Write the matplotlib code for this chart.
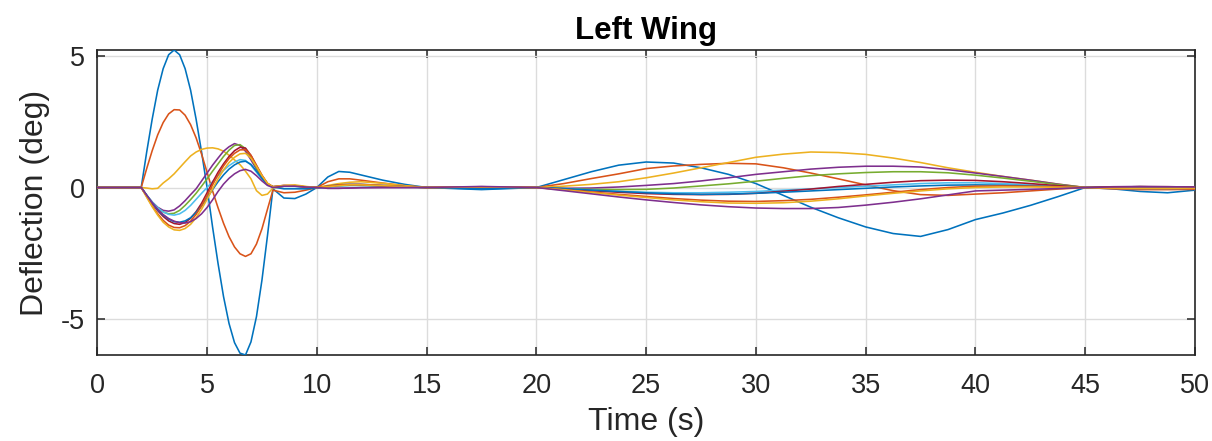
import matplotlib
matplotlib.use("Agg")
import matplotlib.pyplot as plt
import numpy as np

# Time samples (s)
t_start = [0, 2, 2.25, 2.5, 2.75, 3, 3.25, 3.5, 3.75, 4, 4.25, 4.5, 4.75, 5,
           5.25, 5.5, 5.75, 6, 6.25, 6.5, 6.75, 7, 7.25, 7.5, 7.75, 8]
t_mid = [8.5, 9, 9.5, 10, 10.5, 11, 11.5, 12, 13, 14, 15, 17.5]
t_end = [20, 21.25, 22.5, 23.75, 25, 26.25, 27.5, 28.75, 30, 31.25, 32.5,
         33.75, 35, 36.25, 37.5, 38.75, 40, 41.25, 42.5, 43.75, 45, 46.25,
         47.5, 48.75, 50]
time = t_start + t_mid + t_end

# Surface deflections (deg), one list per control surface
blue_a = [0, 0, 1.35, 2.6, 3.7, 4.52, 5.05, 5.23, 5.05, 4.52, 3.7, 2.6, 1.35, 0,
          -1.5, -2.89, -4.15, -5.17, -5.9, -6.3, -6.37, -5.87, -4.91, -3.52, -1.84, -0.05,
          -0.4, -0.42, -0.25, 0.0, 0.4, 0.61, 0.58, 0.48, 0.28, 0.12, 0.0, -0.08,
          0, 0.3, 0.6, 0.85, 0.97, 0.93, 0.75, 0.5, 0.15, -0.3, -0.75, -1.15, -1.5,
          -1.75, -1.86, -1.6, -1.22, -0.97, -0.68, -0.35, 0, -0.05, -0.15, -0.2, -0.1]
orange_a = [0, 0, 0.72, 1.4, 2.0, 2.47, 2.8, 2.96, 2.95, 2.75, 2.39, 1.89, 1.27, 0.58,
            -0.13, -0.77, -1.36, -1.87, -2.26, -2.52, -2.62, -2.52, -2.15, -1.57, -0.83, -0.1,
            -0.2, -0.18, -0.1, 0.0, 0.22, 0.33, 0.33, 0.28, 0.17, 0.07, 0.0, -0.02,
            0, 0.15, 0.34, 0.52, 0.72, 0.82, 0.88, 0.92, 0.9, 0.75, 0.55, 0.33, 0.1,
            -0.12, -0.27, -0.3, -0.25, -0.2, -0.13, -0.06, 0, -0.05, -0.08, -0.08, -0.07]
yellow_a = [0, 0, -0.02, -0.05, -0.03, 0.17, 0.33, 0.52, 0.75, 0.98, 1.2, 1.35, 1.45, 1.5,
            1.51, 1.47, 1.38, 1.23, 1.05, 0.87, 0.62, 0.33, -0.12, -0.3, -0.25, -0.02,
            0.05, 0.07, 0.03, 0.0, 0.08, 0.15, 0.2, 0.22, 0.16, 0.07, 0.0, 0.0,
            0, 0.05, 0.12, 0.22, 0.37, 0.55, 0.75, 0.95, 1.15, 1.27, 1.35, 1.33, 1.26,
            1.12, 0.95, 0.75, 0.58, 0.42, 0.28, 0.13, 0, 0.02, 0.03, 0.03, 0.02]
purple_a = [0, 0, -0.3, -0.55, -0.75, -0.87, -0.9, -0.85, -0.7, -0.5, -0.27, -0.05, 0.25, 0.55,
            0.85, 1.12, 1.38, 1.55, 1.67, 1.6, 1.38, 1.05, 0.7, 0.38, 0.12, 0.03,
            0.05, 0.05, 0.02, 0, -0.03, -0.03, -0.02, 0.0, 0.0, 0.0, 0, 0.03,
            0, -0.03, -0.02, 0.02, 0.08, 0.15, 0.25, 0.37, 0.5, 0.6, 0.7, 0.77, 0.81,
            0.81, 0.78, 0.68, 0.55, 0.42, 0.28, 0.13, 0, 0.03, 0.04, 0.03, 0.02]
green = [0, 0, -0.3, -0.57, -0.78, -0.93, -1.0, -0.98, -0.87, -0.68, -0.46, -0.22, 0.05, 0.33,
         0.62, 0.9, 1.18, 1.42, 1.6, 1.63, 1.48, 1.15, 0.75, 0.4, 0.14, 0.03,
         0.06, 0.06, 0.02, 0, 0.03, 0.07, 0.08, 0.08, 0.05, 0.02, 0, 0.0,
         0, -0.04, -0.07, -0.08, -0.07, -0.02, 0.06, 0.14, 0.24, 0.35, 0.45, 0.52, 0.57,
         0.6, 0.6, 0.56, 0.47, 0.36, 0.24, 0.11, 0, 0.02, 0.03, 0.02, 0.01]
cyan = [0, 0, -0.28, -0.55, -0.77, -0.93, -1.02, -1.05, -1.0, -0.87, -0.68, -0.45, -0.22, 0.0,
        0.22, 0.45, 0.65, 0.83, 0.97, 1.06, 1.03, 0.85, 0.58, 0.32, 0.1, 0.0,
        0.04, 0.04, 0.0, -0.03, 0.0, 0.05, 0.08, 0.08, 0.05, 0.02, 0, -0.03,
        0, -0.05, -0.1, -0.15, -0.18, -0.2, -0.2, -0.18, -0.15, -0.1, -0.05, 0.0, 0.05,
        0.1, 0.15, 0.18, 0.18, 0.15, 0.1, 0.05, 0, -0.03, -0.05, -0.05, -0.03]
dark_red = [0, 0, -0.3, -0.6, -0.88, -1.1, -1.27, -1.37, -1.4, -1.33, -1.17, -0.92, -0.6, -0.2,
            0.2, 0.58, 0.9, 1.18, 1.4, 1.53, 1.5, 1.22, 0.82, 0.45, 0.15, 0.03,
            0.08, 0.07, 0.02, 0, 0.03, 0.08, 0.1, 0.1, 0.06, 0.03, 0, 0.0,
            0, -0.06, -0.12, -0.18, -0.23, -0.26, -0.27, -0.26, -0.22, -0.14, -0.06, 0.04, 0.12,
            0.2, 0.26, 0.28, 0.27, 0.22, 0.15, 0.07, 0, 0.02, 0.03, 0.02, 0.01]
blue_b = [0, 0, -0.3, -0.6, -0.85, -1.05, -1.2, -1.3, -1.32, -1.27, -1.15, -0.95, -0.7, -0.4,
          -0.08, 0.22, 0.48, 0.7, 0.86, 0.97, 1.0, 0.88, 0.62, 0.35, 0.12, 0.02,
          -0.05, -0.05, -0.05, -0.02, 0.05, 0.1, 0.12, 0.12, 0.08, 0.03, 0, -0.05,
          0, -0.04, -0.1, -0.15, -0.2, -0.24, -0.26, -0.25, -0.22, -0.18, -0.13, -0.08, -0.03,
          0.02, 0.06, 0.09, 0.1, 0.09, 0.06, 0.03, 0, -0.02, -0.03, -0.03, -0.02]
orange_b = [0, 0, -0.35, -0.7, -1.0, -1.25, -1.43, -1.52, -1.53, -1.45, -1.28, -1.02, -0.7, -0.3,
            0.1, 0.48, 0.82, 1.1, 1.3, 1.43, 1.44, 1.22, 0.85, 0.47, 0.16, 0.02,
            0.05, 0.06, 0.02, 0.0, 0.05, 0.1, 0.12, 0.12, 0.08, 0.03, 0, 0.02,
            0, -0.08, -0.17, -0.26, -0.34, -0.42, -0.48, -0.52, -0.53, -0.5, -0.45, -0.37, -0.28,
            -0.18, -0.08, 0.0, 0.05, 0.06, 0.05, 0.03, 0, -0.03, -0.05, -0.05, -0.04]
yellow_b = [0, 0, -0.37, -0.73, -1.05, -1.32, -1.5, -1.61, -1.63, -1.56, -1.4, -1.15, -0.83, -0.45,
            -0.05, 0.33, 0.67, 0.95, 1.15, 1.28, 1.3, 1.12, 0.8, 0.45, 0.16, 0.03,
            0.08, 0.1, 0.04, 0.0, 0.03, 0.07, 0.1, 0.1, 0.07, 0.03, 0, 0.02,
            0, -0.09, -0.19, -0.29, -0.38, -0.47, -0.54, -0.59, -0.6, -0.58, -0.52, -0.43, -0.32,
            -0.22, -0.13, -0.05, 0.0, 0.02, 0.02, 0.01, 0, -0.02, -0.03, -0.03, -0.02]
purple_b = [0, 0, -0.3, -0.58, -0.83, -1.03, -1.18, -1.28, -1.34, -1.35, -1.3, -1.18, -1.0, -0.76,
            -0.47, -0.15, 0.13, 0.35, 0.52, 0.64, 0.69, 0.62, 0.45, 0.25, 0.08, 0.0,
            0.05, 0.05, 0.02, 0.0, -0.03, -0.03, -0.02, -0.01, 0.0, 0.0, 0.0, 0.04,
            0, -0.12, -0.24, -0.36, -0.47, -0.57, -0.66, -0.73, -0.78, -0.8, -0.8, -0.76, -0.67,
            -0.56, -0.43, -0.28, -0.13, -0.1, -0.07, -0.04, 0, 0.02, 0.03, 0.03, 0.02]

series = [blue_a, orange_a, yellow_a, purple_a, green, cyan, dark_red,
          blue_b, orange_b, yellow_b, purple_b]
palette = ["#0072BD", "#D95319", "#EDB120", "#7E2F8E", "#77AC30", "#4DBEEE", "#A2142F"]

x_ticks = [0, 5, 10, 15, 20, 25, 30, 35, 40, 45, 50]
y_ticks = [-5, 0, 5]
y_tick_labels = ["-5", "0", "5"]

plt.rcParams["font.family"] = ["Liberation Sans", "DejaVu Sans"]
ink = "#262626"

fig = plt.figure(figsize=(12.12, 4.41), dpi=100)
ax = fig.add_axes([97.3 / 1212, 1 - 355 / 441, (1195 - 97.3) / 1212, (355 - 50) / 441])

for i, vals in enumerate(series):
    ax.plot(time, vals, color=palette[i % len(palette)], linewidth=1.15,
            solid_joinstyle="round", zorder=3 + i * 0.01)

all_vals = np.concatenate([np.asarray(s, dtype=float) for s in series])
ax.set_xlim(0, 50)
ax.set_ylim(all_vals.min(), all_vals.max())

ax.set_xticks(x_ticks)
ax.set_yticks(y_ticks)
ax.set_yticklabels(y_tick_labels)
ax.grid(True, color="#DCDCDC", linewidth=1.0, zorder=0)
ax.set_axisbelow(True)

ax.tick_params(direction="in", length=6, width=1.1, color=ink, labelcolor=ink,
               labelsize=19.5, top=True, right=True)
ax.tick_params(axis="x", pad=13)
ax.tick_params(axis="y", pad=9)
for sp in ax.spines.values():
    sp.set_color(ink)
    sp.set_linewidth(1.2)

ax.set_xlabel("Time (s)", fontsize=23, color=ink, labelpad=6)
ax.set_ylabel("Deflection (deg)", fontsize=23, color=ink, labelpad=8)
ax.set_title("Left Wing", fontsize=22.5, fontweight="bold", color="black", pad=8)

fig.savefig("out.png", dpi=100)
